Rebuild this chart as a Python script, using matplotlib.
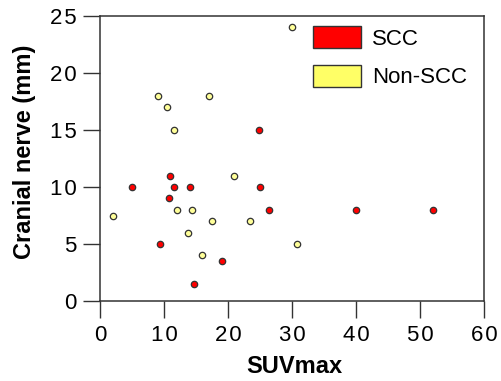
import matplotlib
matplotlib.use("Agg")
import matplotlib.pyplot as plt
from matplotlib.patches import Patch

plt.rcParams['font.family'] = ['Liberation Sans', 'DejaVu Sans']

scc_x = [24.8, 11.0, 5.0, 11.6, 14.0, 25.0, 10.8, 26.4, 9.3, 19.0, 14.7, 40.0, 52.0]
scc_y = [15.0, 11.0, 10.0, 10.0, 10.0, 10.0, 9.0, 8.0, 5.0, 3.5, 1.5, 8.0, 8.0]

non_x = [30.0, 9.0, 10.5, 17.0, 11.5, 21.0, 12.0, 14.4, 2.0, 17.5, 23.5, 13.7, 30.8, 16.0]
non_y = [24.0, 18.0, 17.0, 18.0, 15.0, 11.0, 8.0, 8.0, 7.5, 7.0, 7.0, 6.0, 5.0, 4.0]

x_ticks = [0, 10, 20, 30, 40, 50, 60]
y_ticks = [0, 5, 10, 15, 20, 25]

red = '#FF0000'
yellow_marker = '#FFFF99'
yellow_patch = '#FFFF66'
edge = '#333333'


def spaced(v):
    return "\u200a".join(str(v))


fig = plt.figure(figsize=(5.01, 3.81), dpi=100)
ax = fig.add_axes([100/501, 80/381, 384/501, 285/381])

ax.scatter(non_x, non_y, s=21, c=yellow_marker, edgecolors=edge, linewidths=0.9, zorder=3)
ax.scatter(scc_x, scc_y, s=21, c=red, edgecolors=edge, linewidths=0.9, zorder=3)

ax.set_xlim(0, 60)
ax.set_ylim(0, 25)
ax.set_xticks(x_ticks)
ax.set_yticks(y_ticks)
ax.set_xticklabels([spaced(t) for t in x_ticks])
ax.set_yticklabels([spaced(t) for t in y_ticks])
ax.tick_params(direction='out', length=12.5, width=1.0, color=edge, labelsize=16)
ax.tick_params(axis='x', pad=5)
ax.tick_params(axis='y', pad=4.3)
for s in ax.spines.values():
    s.set_linewidth(1.1)
    s.set_color(edge)

ax.set_xlabel("SUVmax", fontsize=17, fontweight='bold')
ax.set_ylabel("Cranial nerve (mm)", fontsize=17, fontweight='bold')
ax.xaxis.set_label_coords(0.505, -0.19)
ax.yaxis.set_label_coords(-0.167, 0.523)

handles = [Patch(facecolor=red, edgecolor=edge, linewidth=1.0, label='SCC'),
           Patch(facecolor=yellow_patch, edgecolor=edge, linewidth=1.0, label='Non-SCC')]
ax.legend(handles=handles, loc='upper left', bbox_to_anchor=(0.5547, 0.965),
          frameon=False, fontsize=16, handlelength=2.16, handleheight=1.17,
          labelspacing=0.68, handletextpad=0.5, borderpad=0, borderaxespad=0)

fig.savefig("out.png", dpi=100)
